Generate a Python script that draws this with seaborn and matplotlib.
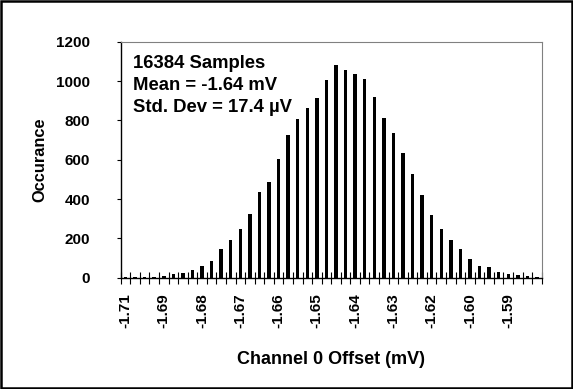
import numpy as np
import matplotlib
matplotlib.use("Agg")
import matplotlib.pyplot as plt
import seaborn as sns
from matplotlib.patches import Rectangle
from matplotlib.font_manager import FontProperties

# Histogram of channel 0 offset readings (44 bins)
counts = [2, 2, 3, 5, 8, 19, 24, 41, 59, 85,
          147, 192, 247, 324, 437, 485, 605, 725, 807, 863,
          915, 1005, 1081, 1056, 1036, 1008, 920, 810, 734, 634,
          527, 422, 319, 247, 190, 144, 95, 59, 53, 27,
          20, 14, 7, 3]
bin_labels = ["-1.71", "-1.69", "-1.68", "-1.67", "-1.66", "-1.65",
              "-1.64", "-1.63", "-1.62", "-1.60", "-1.59"]
label_step = 4
y_ticks = [0, 200, 400, 600, 800, 1000, 1200]
stats_text = ["16384 Samples", "Mean = -1.64 mV", "Std. Dev = 17.4 \u00b5V"]

sns.set_theme(style="white")
plt.rcParams["font.family"] = ["Liberation Sans", "DejaVu Sans"]
plt.rcParams["font.weight"] = "bold"
for key in ("text.color", "axes.labelcolor", "xtick.color", "ytick.color"):
    plt.rcParams[key] = "black"

tick_font = FontProperties(family="Liberation Sans", weight="bold", size=11)

fig = plt.figure(figsize=(5.73, 3.89), dpi=100)
ax = fig.add_axes([0.2107, 0.2861, 0.9454 - 0.2107, 0.8928 - 0.2861])

n = len(counts)
sns.barplot(x=np.arange(n), y=counts, color="black", width=0.36,
            saturation=1, ax=ax, edgecolor="none")

ax.set_xlim(-0.5, n - 0.5)
ax.set_ylim(0, 1200)

# bin boundaries get tick marks, every 4th bin centre gets a label
ax.set_xticks(np.arange(n + 1) - 0.5)
ax.set_xticklabels([])
ax.tick_params(axis="x", which="major", direction="inout", length=8.5,
               width=0.8, color="black", bottom=True)
ax.set_xticks(np.arange(0, n, label_step), minor=True)
ax.set_xticklabels(bin_labels, minor=True, rotation=90,
                   fontproperties=tick_font)
ax.tick_params(axis="x", which="minor", length=0, pad=11, bottom=True)

ax.set_yticks(y_ticks)
ax.set_yticklabels([str(v) for v in y_ticks], fontproperties=tick_font)
ax.tick_params(axis="y", direction="out", length=3, width=0.8, color="black",
               pad=19, left=True)

for side in ("top", "right"):
    ax.spines[side].set_color("#808080")
    ax.spines[side].set_linewidth(0.8)
for side in ("left", "bottom"):
    ax.spines[side].set_color("black")
    ax.spines[side].set_linewidth(1.0)

ax.set_xlabel("Channel 0 Offset (mV)", fontsize=13, fontweight="bold")
ax.set_ylabel("Occurance", fontsize=11.8, fontweight="bold")
ax.xaxis.set_label_coords(0.5, -0.312)
ax.yaxis.set_label_coords(-0.174, 0.5)

for i, line in enumerate(stats_text):
    ax.text(0.03, 0.908 - i * 0.093, line, transform=ax.transAxes,
            fontsize=13.3, fontweight="bold", va="center", ha="left")

fig.patches.append(Rectangle((0.002, 0.003), 0.996, 0.994,
                             transform=fig.transFigure, fill=False,
                             edgecolor="black", linewidth=1.8))

fig.savefig("out.png", dpi=100, facecolor="white")
